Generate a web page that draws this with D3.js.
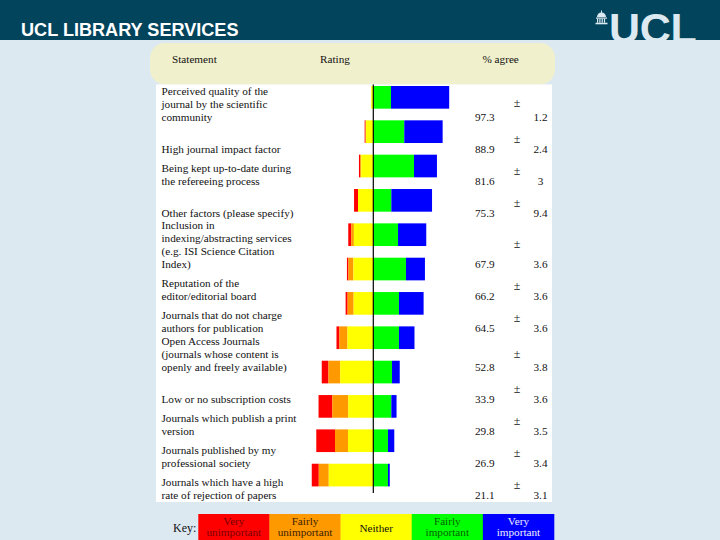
<!DOCTYPE html>
<html><head><meta charset="utf-8">
<script src="https://cdn.jsdelivr.net/npm/d3@7"></script>
<style>html,body{margin:0;padding:0;background:#dde9f1;}svg{display:block;}</style>
</head><body>
<script>
// ---- data ----
const statements = [
  ["Perceived quality of the","journal by the scientific","community"],
  ["High journal impact factor"],
  ["Being kept up-to-date during","the refereeing process"],
  ["Other factors (please specify)"],
  ["Inclusion in","indexing/abstracting services","(e.g. ISI Science Citation","Index)"],
  ["Reputation of the","editor/editorial board"],
  ["Journals that do not charge","authors for publication"],
  ["Open Access Journals","(journals whose content is","openly and freely available)"],
  ["Low or no subscription costs"],
  ["Journals which publish a print","version"],
  ["Journals published by my","professional society"],
  ["Journals which have a high","rate of rejection of papers"]
];
const veryUnimportant   = [0.0, 1.2, 1.5, 5.1, 3.8, 1.9, 2.6, 3.8, 8.6, 17.6, 24.0, 9.0];
const fairlyUnimportant = [0.0, 0.6, 1.5, 0.0, 3.4, 6.4, 7.7, 10.3, 15.0, 20.5, 16.7, 12.8];
const neither           = [2.7, 9.3, 15.4, 19.6, 24.9, 25.5, 25.2, 33.1, 42.5, 32.1, 32.4, 57.1];
const fairlyImportant   = [22.7, 39.7, 52.2, 23.1, 31.7, 41.9, 32.9, 32.9, 24.0, 23.1, 18.8, 18.8];
const veryImportant     = [74.6, 49.2, 29.4, 52.2, 36.2, 24.3, 31.6, 19.9, 9.9, 6.7, 8.1, 2.3];
const percentAgree = ["97.3","88.9","81.6","75.3","67.9","66.2","64.5","52.8","33.9","29.8","26.9","21.1"];
const errorMargin  = ["1.2","2.4","3","9.4","3.6","3.6","3.6","3.8","3.6","3.5","3.4","3.1"];
const columnHeaders = ["Statement","Rating","% agree"];
const ratingKeys = [["Very","unimportant"],["Fairly","unimportant"],["Neither"],["Fairly","important"],["Very","important"]];
const ratingColors = ["#ff0000","#ff9900","#ffff00","#00ff00","#0000ff"];
const keyTextColors = ["#7a0000","#3a2200","#111111","#006400","#eef0ff"];
const headerTitle = "UCL LIBRARY SERVICES";
const logoText = "UCL";

// ---- drawing ----
const W = 720, H = 540;
const svg = d3.select("body").append("svg").attr("width", W).attr("height", H);
const serif = "'Liberation Serif','Times New Roman',serif";
const sans = "'Liberation Sans',Arial,sans-serif";

svg.append("rect").attr("width", W).attr("height", H).attr("fill", "#dde9f1");
// header band
svg.append("rect").attr("width", W).attr("height", 40).attr("fill", "#01445c");
svg.append("text").attr("x", 21).attr("y", 35.5).attr("fill", "#ffffff")
  .attr("font-family", sans).attr("font-weight", "bold").attr("font-size", 18.1)
  .text(headerTitle);
// logo
const logo = svg.append("g").attr("fill", "#dde9f1");
logo.append("text").attr("x", 609).attr("y", 43).attr("font-family", sans)
  .attr("font-weight", "bold").attr("font-size", 43).attr("letter-spacing", -0.3).text(logoText);
logo.append("path").attr("d", "M597,17 A4.5,4.5 0 0 1 606,17 Z");
logo.append("rect").attr("x", 601).attr("y", 10.5).attr("width", 1).attr("height", 2.5);
logo.append("rect").attr("x", 596).attr("y", 17.5).attr("width", 11).attr("height", 1.2);
[597, 599.3, 601.6, 603.9].forEach(x => logo.append("rect").attr("x", x).attr("y", 18.7).attr("width", 1.2).attr("height", 4));
logo.append("rect").attr("x", 595.5).attr("y", 22.7).attr("width", 12).attr("height", 1.6);

// heading panel
svg.append("rect").attr("x", 150).attr("y", 43).attr("width", 405).attr("height", 41.5)
  .attr("rx", 15).attr("fill", "#f1f0cd");
svg.append("rect").attr("x", 156).attr("y", 84.4).attr("width", 396).attr("height", 417.6).attr("fill", "#ffffff");

const headX = [172, 320, 482.5];
svg.selectAll("text.head").data(columnHeaders).join("text").attr("class", "head")
  .attr("x", (d, i) => headX[i]).attr("y", 62.5)
  .attr("font-family", serif).attr("font-size", 11.2).attr("fill", "#111").text(d => d);

// scales
const x = d3.scaleLinear().domain([-100, 100]).range([373.3 - 78, 373.3 + 78]);
const y = d3.scaleBand().domain(d3.range(statements.length)).range([80.16, 492.24])
  .paddingInner(0.34).paddingOuter(0.17);

const segs = [];
statements.forEach((s, i) => {
  const vu = veryUnimportant[i], fu = fairlyUnimportant[i], n = neither[i];
  const fi = fairlyImportant[i], vi = veryImportant[i];
  segs.push({row: i, k: 0, x0: -(n + fu + vu), x1: -(n + fu)});
  segs.push({row: i, k: 1, x0: -(n + fu), x1: -n});
  segs.push({row: i, k: 2, x0: -n, x1: 0});
  segs.push({row: i, k: 3, x0: 0, x1: fi});
  segs.push({row: i, k: 4, x0: fi, x1: fi + vi});
});
svg.append("g").selectAll("rect").data(segs.filter(d => d.x1 > d.x0)).join("rect")
  .attr("x", d => x(d.x0)).attr("width", d => x(d.x1) - x(d.x0))
  .attr("y", d => y(d.row)).attr("height", y.bandwidth())
  .attr("fill", d => ratingColors[d.k]);
svg.append("line").attr("x1", x(0)).attr("x2", x(0)).attr("y1", 84.4).attr("y2", 493)
  .attr("stroke", "#000").attr("stroke-width", 1.2);

// text table rows
const lineH = 12.9, minRow = 32;
let rowTop = 84.45;
const rows = statements.map((lines, i) => {
  const h = Math.max(minRow, lines.length * lineH);
  const r = {i, lines, top: rowTop, h};
  rowTop += h;
  return r;
});
const tg = svg.append("g").attr("font-family", serif).attr("font-size", 11.2).attr("fill", "#111");
rows.forEach(r => {
  const bottom = r.top + r.h;
  r.lines.forEach((ln, j) => {
    const cy = bottom - (r.lines.length - j - 0.5) * lineH;
    tg.append("text").attr("x", 161.5).attr("y", cy + 3.8).text(ln);
  });
  const lastCy = bottom - 0.5 * lineH;
  tg.append("text").attr("x", 475).attr("y", lastCy + 3.8).text(percentAgree[r.i]);
  tg.append("text").attr("x", 540.5).attr("y", lastCy + 3.8).attr("text-anchor", "middle").text(errorMargin[r.i]);
  tg.append("text").attr("x", 517).attr("y", r.top + r.h / 2 + 3.5).attr("text-anchor", "middle")
    .attr("font-size", 12).text("\u00b1");
});

// key
svg.append("text").attr("x", 173).attr("y", 531.5).attr("font-family", serif)
  .attr("font-size", 12).attr("fill", "#111").text("Key:");
const kx = d3.scaleBand().domain(d3.range(ratingKeys.length)).range([198.3, 554]);
const kg = svg.append("g").selectAll("g").data(ratingKeys).join("g");
kg.append("rect").attr("x", (d, i) => kx(i)).attr("y", 514).attr("width", kx.bandwidth() + 0.3)
  .attr("height", 30).attr("fill", (d, i) => ratingColors[i]);
kg.each(function(d, i) {
  const g = d3.select(this);
  d.forEach((ln, j) => {
    const cy = d.length === 1 ? 527.7 : 521 + j * 11.5;
    g.append("text").attr("x", kx(i) + kx.bandwidth() / 2).attr("y", cy + 3.8)
      .attr("text-anchor", "middle").attr("font-family", serif).attr("font-size", 11.2)
      .attr("fill", keyTextColors[i]).text(ln);
  });
});
</script>
</body></html>
